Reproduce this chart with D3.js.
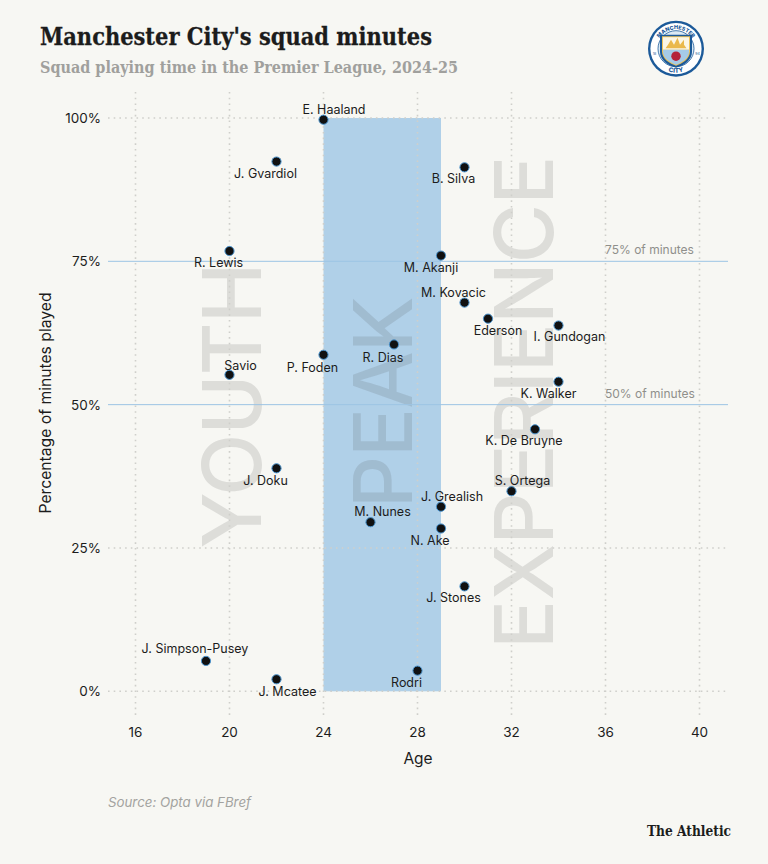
<!DOCTYPE html>
<html><head><meta charset="utf-8">
<script src="https://cdn.jsdelivr.net/npm/d3@7"></script>
<style>html,body{margin:0;padding:0;background:#f7f7f3}svg{display:block}</style>
</head><body><svg id="c" width="768" height="864"></svg>
<script>
const players=["E. Haaland","J. Gvardiol","B. Silva","R. Lewis","M. Akanji","M. Kovacic","Ederson","I. Gundogan","R. Dias","P. Foden","Savio","K. Walker","K. De Bruyne","J. Doku","S. Ortega","J. Grealish","M. Nunes","N. Ake","J. Stones","J. Simpson-Pusey","J. Mcatee","Rodri"];
const ages=[24,22,30,20,29,30,31,34,27,24,20,34,33,22,32,29,26,29,30,19,22,28];
const minutesPct=[99.7,92.4,91.4,76.8,76,67.8,65,63.8,60.5,58.7,55.2,54,45.7,38.9,34.9,32.2,29.5,28.4,18.3,5.3,2.1,3.6];
const labelDx=[10.5,-11,-11,-11,-10,-11,10,11,-11,-11,11,-10,-11,-11,11,11,12,-11,-11,-11,11,-11];
const labelDy=[-10.5,11.5,11,11,12,-10.5,12,11,13,13,-9,12,11,12,-11,-10,-11,12,11,-12,12,12];
const xTicks=[16,20,24,28,32,36,40];
const yTicks=[0,25,50,75,100];
const refLines=[{v:75,t:"75% of minutes"},{v:50,t:"50% of minutes"}];
const peakRange=[24,29];
const zones=[{t:"YOUTH",age:20.05,mid:406},{t:"PEAK",age:26.5,mid:402.5},{t:"EXPERIENCE",age:32.5,mid:402.5}];

const font="Inter, 'Noto Sans', sans-serif";
const serif="'DejaVu Serif',serif";
const svg=d3.select("#c");
const x=d3.scaleLinear().domain([16,40]).range([135.5,699.5]);
const y=d3.scaleLinear().domain([0,100]).range([691.3,118]);
const L=108,R=728,T=92,B=719;

svg.append("rect").attr("x",x(peakRange[0])).attr("width",x(peakRange[1])-x(peakRange[0])).attr("y",y(100)).attr("height",y(0)-y(100)).attr("fill","#b0d0e8");

svg.append("g").selectAll("text").data(zones).join("text")
 .attr("transform",d=>`translate(${x(d.age)+30},${d.mid}) rotate(-90)`)
 .attr("text-anchor","middle").attr("font-family",font).attr("font-weight",500).attr("letter-spacing",-0.7).attr("font-size",81).attr("fill","#4a4a48").attr("fill-opacity",0.15).text(d=>d.t);

svg.append("g").selectAll("line").data(refLines).join("line").attr("x1",L).attr("x2",R).attr("y1",d=>y(d.v)).attr("y2",d=>y(d.v)).attr("stroke","#9cc4e4").attr("stroke-width",1);

const grid=svg.append("g").attr("stroke","#cfcfcb").attr("stroke-width",1.6).attr("stroke-dasharray","1.6 4.1");
grid.selectAll(".v").data(xTicks).join("line").attr("x1",d=>x(d)).attr("x2",d=>x(d)).attr("y1",T).attr("y2",B);
grid.selectAll(".h").data([0,100]).join("line").attr("x1",L).attr("x2",R).attr("y1",d=>y(d)).attr("y2",d=>y(d));
grid.selectAll(".m").data([25]).join("line").attr("x1",L).attr("x2",R).attr("y1",d=>y(d)).attr("y2",d=>y(d));

svg.append("g").selectAll("text").data(refLines).join("text").attr("x",605).attr("y",d=>y(d.v)-7).attr("font-family",font).attr("font-size",12).attr("fill","#8f8f8b").text(d=>d.t);

const ty=svg.append("g").attr("font-family",font).attr("font-size",13.5).attr("fill","#1c1c1c");
ty.selectAll("text").data(yTicks).join("text").attr("x",101).attr("y",d=>y(d)+5).attr("text-anchor","end").text(d=>d+"%");
const tx=svg.append("g").attr("font-family",font).attr("font-size",13.5).attr("fill","#1c1c1c");
tx.selectAll("text").data(xTicks).join("text").attr("x",d=>x(d)).attr("y",737).attr("text-anchor","middle").text(d=>d);
svg.append("text").attr("x",418).attr("y",764).attr("text-anchor","middle").attr("font-family",font).attr("font-size",15.5).attr("fill","#1c1c1c").text("Age");
svg.append("text").attr("transform","translate(51,403) rotate(-90)").attr("text-anchor","middle").attr("font-family",font).attr("font-size",15.7).attr("fill","#1c1c1c").text("Percentage of minutes played");

const rows=players.map((p,i)=>({p,a:ages[i],m:minutesPct[i],dx:labelDx[i],dy:labelDy[i]}));
svg.append("g").selectAll("circle").data(rows).join("circle").attr("cx",d=>x(d.a)).attr("cy",d=>y(d.m)).attr("r",4.6).attr("fill","#111").attr("stroke","#4b95d0").attr("stroke-width",1);
svg.append("g").selectAll("text").data(rows).join("text").attr("x",d=>x(d.a)+d.dx).attr("y",d=>y(d.m)+d.dy+4.5).attr("text-anchor","middle").attr("font-family",font).attr("font-size",12.5).attr("fill","#1c1c1c").text(d=>d.p);

svg.append("text").attr("x",40).attr("y",45).attr("font-family",serif).attr("font-weight",700).attr("font-size",24.5).attr("fill","#1c1c1c").attr("stroke","#1c1c1c").attr("stroke-width",0.3).attr("textLength",392).attr("lengthAdjust","spacingAndGlyphs").text("Manchester City's squad minutes");
svg.append("text").attr("x",40).attr("y",72.5).attr("font-family",serif).attr("font-weight",700).attr("font-size",17.5).attr("fill","#a0a09d").attr("textLength",418).attr("lengthAdjust","spacingAndGlyphs").text("Squad playing time in the Premier League, 2024-25");
svg.append("text").attr("x",108).attr("y",807).attr("font-family",font).attr("font-style","italic").attr("font-size",13.3).attr("fill","#a3a3a0").text("Source: Opta via FBref");
svg.append("text").attr("x",647).attr("y",836).attr("font-family",serif).attr("font-weight",700).attr("font-size",15).attr("fill","#1c1c1c").attr("textLength",84).attr("lengthAdjust","spacingAndGlyphs").text("The Athletic");

// crest
const navy="#1c5a99";
const logo=svg.append("g").attr("transform","translate(676,48.7)");
logo.append("circle").attr("r",28).attr("fill",navy);
logo.append("circle").attr("r",25.6).attr("fill","#fff");
logo.append("circle").attr("r",18).attr("fill","#dbe9f4").attr("stroke",navy).attr("stroke-width",0.8);
logo.append("path").attr("d","M-16,-14 H16 V3 C16,12 7,17 0,19 C-7,17 -16,12 -16,3 Z").attr("fill",navy);
logo.append("path").attr("d","M-14,-12.5 H14 V3 C14,10 6,15 0,17 C-6,15 -14,10 -14,3 Z").attr("fill","#eec35a");
logo.append("path").attr("d","M-13,-11.5 H13 V1 H-13 Z").attr("fill","#fbf6e6");
logo.append("path").attr("d","M-13,1 H13 V3 C13,9.5 5.5,14 0,16 C-5.5,14 -13,9.5 -13,3 Z").attr("fill","#a5cbe8");
logo.append("path").attr("d","M-10.5,-0.5 H10.5 L8,-4 V-9 L4,-4 L1.5,-11 L-2,-4 L-5,-9 L-8,-4 Z").attr("fill","#eab94c");
logo.append("path").attr("d",d3.symbol(d3.symbolCircle,70)()).attr("transform","translate(0,7.5)").attr("fill","#b5213a");
logo.append("path").attr("id","arcTop").attr("d","M-19.5,-3 A19.8,19.8 0 0 1 19.5,-3").attr("fill","none");
logo.append("path").attr("id","arcBot").attr("d","M-18,16 A24.5,24.5 0 0 0 18,16").attr("fill","none");
logo.append("text").attr("font-family",font).attr("font-weight",800).attr("font-size",5.4).attr("fill",navy).append("textPath").attr("href","#arcTop").attr("startOffset","50%").attr("text-anchor","middle").text("MANCHESTER");
logo.append("text").attr("font-family",font).attr("font-weight",800).attr("font-size",6.3).attr("fill",navy).append("textPath").attr("href","#arcBot").attr("startOffset","50%").attr("text-anchor","middle").text("CITY");
logo.selectAll(".yr").data([{t:"18",x:-21.5},{t:"94",x:21.5}]).join("text").attr("x",d=>d.x).attr("y",6).attr("text-anchor","middle").attr("font-family",font).attr("font-size",3.6).attr("fill",navy).text(d=>d.t);
</script></body></html>
